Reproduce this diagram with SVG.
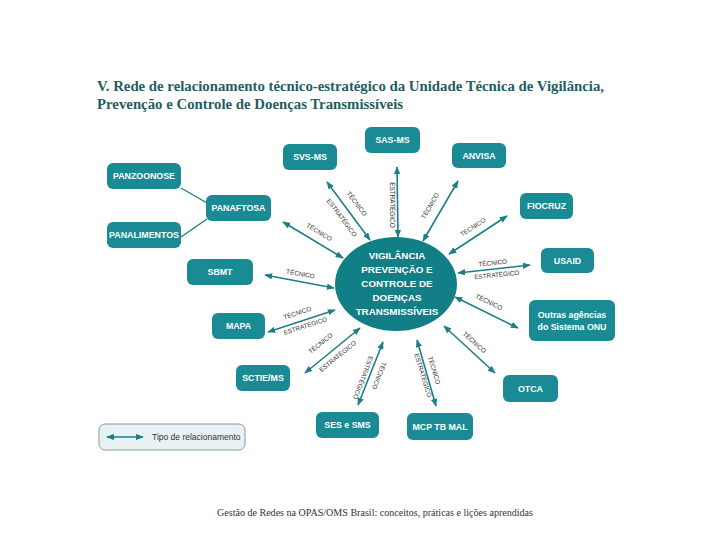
<svg xmlns="http://www.w3.org/2000/svg" width="720" height="540" viewBox="0 0 720 540">
<defs>
<marker id="ah" viewBox="0 0 10 8" refX="9" refY="4" markerUnits="userSpaceOnUse" markerWidth="8" markerHeight="6.4" orient="auto-start-reverse">
<path d="M0,0 L10,4 L0,8 z" fill="#1d7f86"/>
</marker>
</defs>
<style>
.node rect{fill:#1a8b94;}
.nt{font-family:"Liberation Sans","DejaVu Sans",sans-serif;font-weight:bold;font-size:8.8px;fill:#ffffff;text-anchor:middle;}
.ct{font-family:"Liberation Sans","DejaVu Sans",sans-serif;font-weight:bold;font-size:9.8px;fill:#ffffff;text-anchor:middle;}
.arr{stroke:#1d7f86;stroke-width:1.6;fill:none;marker-start:url(#ah);marker-end:url(#ah);}
.ln{stroke:#1d7f86;stroke-width:1.4;fill:none;}
.lb{font-family:"Liberation Sans","DejaVu Sans",sans-serif;font-size:6.4px;fill:#333333;text-anchor:middle;}
.title{font-family:"Liberation Serif","DejaVu Serif",serif;font-weight:bold;font-size:15px;fill:#1e5e5f;}
.foot{font-family:"Liberation Serif","DejaVu Serif",serif;font-size:9.5px;fill:#333333;}
</style>
<rect width="720" height="540" fill="#ffffff"/>
<text class="title" x="97" y="91" textLength="507" lengthAdjust="spacingAndGlyphs">V. Rede de relacionamento técnico-estratégico da Unidade Técnica de Vigilância,</text>
<text class="title" x="97" y="109" textLength="306" lengthAdjust="spacingAndGlyphs">Prevenção e Controle de Doenças Transmissíveis</text>

<g id="connectors">
<line class="ln" x1="181" y1="188" x2="207" y2="203"/>
<line class="ln" x1="181" y1="237" x2="207" y2="219"/>
<line class="arr" x1="327" y1="182" x2="370" y2="240"/>
<line class="arr" x1="283" y1="222" x2="343" y2="258"/>
<line class="arr" x1="397" y1="167" x2="398" y2="237"/>
<line class="arr" x1="458" y1="181" x2="423" y2="241"/>
<line class="arr" x1="507" y1="216" x2="449" y2="254"/>
<line class="arr" x1="530" y1="265" x2="458" y2="273"/>
<line class="arr" x1="455" y1="297" x2="518" y2="328"/>
<line class="arr" x1="444" y1="326" x2="495" y2="373"/>
<line class="arr" x1="417" y1="340" x2="436" y2="406"/>
<line class="arr" x1="383" y1="342" x2="358" y2="405"/>
<line class="arr" x1="360" y1="328" x2="305" y2="373"/>
<line class="arr" x1="335" y1="310" x2="268" y2="332"/>
<line class="arr" x1="265" y1="275" x2="334" y2="288"/>
<text class="lb" transform="translate(355,205) rotate(53)">TÉCNICO</text>
<text class="lb" transform="translate(340,219) rotate(53)">ESTRATÉGICO</text>
<text class="lb" transform="translate(318,234) rotate(31)">TÉCNICO</text>
<text class="lb" transform="translate(390,205) rotate(90)">ESTRATÉGICO</text>
<text class="lb" transform="translate(432,207) rotate(-60)">TÉCNICO</text>
<text class="lb" transform="translate(474,229) rotate(-33)">TÉCNICO</text>
<text class="lb" transform="translate(493,265) rotate(-6)">TÉCNICO</text>
<text class="lb" transform="translate(497,277) rotate(-6)">ESTRATÉGICO</text>
<text class="lb" transform="translate(488,304) rotate(26)">TÉCNICO</text>
<text class="lb" transform="translate(473,344) rotate(42)">TÉCNICO</text>
<text class="lb" transform="translate(432,371) rotate(73)">TÉCNICO</text>
<text class="lb" transform="translate(421,376) rotate(73)">ESTRATÉGICO</text>
<text class="lb" transform="translate(361,377) rotate(111)">ESTRATÉGICO</text>
<text class="lb" transform="translate(377,375) rotate(111)">TÉCNICO</text>
<text class="lb" transform="translate(322,345) rotate(-39)">TÉCNICO</text>
<text class="lb" transform="translate(339,358) rotate(-39)">ESTRATÉGICO</text>
<text class="lb" transform="translate(298,315) rotate(-18)">TÉCNICO</text>
<text class="lb" transform="translate(306,328) rotate(-18)">ESTRATÉGICO</text>
<text class="lb" transform="translate(300,276) rotate(10)">TÉCNICO</text>
</g>

<g id="center">
<ellipse cx="396" cy="284" rx="61" ry="47" fill="#127f86"/>
<text class="ct" x="397" y="259">VIGILÂNCIA</text>
<text class="ct" x="397" y="273">PREVENÇÃO E</text>
<text class="ct" x="397" y="287">CONTROLE DE</text>
<text class="ct" x="397" y="301">DOENÇAS</text>
<text class="ct" x="397" y="315">TRANSMISSÍVEIS</text>
</g>

<g id="sas-ms" class="node"><rect x="365" y="127" width="55" height="26" rx="6"/><text class="nt" x="392.5" y="143">SAS-MS</text></g>
<g id="anvisa" class="node"><rect x="452" y="143" width="54" height="25" rx="6"/><text class="nt" x="479" y="158.5">ANVISA</text></g>
<g id="fiocruz" class="node"><rect x="520" y="193" width="53" height="26" rx="6"/><text class="nt" x="546.5" y="209">FIOCRUZ</text></g>
<g id="usaid" class="node"><rect x="541" y="248" width="53" height="25" rx="6"/><text class="nt" x="567.5" y="263.5">USAID</text></g>
<g id="outras" class="node"><rect x="529" y="300" width="86" height="41" rx="6"/><text class="nt" x="572" y="318">Outras agências</text><text class="nt" x="572" y="330">do Sistema ONU</text></g>
<g id="otca" class="node"><rect x="503" y="375" width="55" height="27" rx="6"/><text class="nt" x="530.5" y="391.5">OTCA</text></g>
<g id="mcp" class="node"><rect x="407" y="413" width="66" height="27" rx="6"/><text class="nt" x="440" y="429.5">MCP TB MAL</text></g>
<g id="ses" class="node"><rect x="316" y="412" width="63" height="26" rx="6"/><text class="nt" x="347.5" y="428">SES e SMS</text></g>
<g id="sctie" class="node"><rect x="236" y="365" width="54" height="26" rx="6"/><text class="nt" x="263" y="381">SCTIE/MS</text></g>
<g id="mapa" class="node"><rect x="212" y="313" width="53" height="26" rx="6"/><text class="nt" x="238.5" y="329">MAPA</text></g>
<g id="sbmt" class="node"><rect x="187" y="259" width="66" height="26" rx="6"/><text class="nt" x="220" y="275">SBMT</text></g>
<g id="panaftosa" class="node"><rect x="206" y="195" width="65" height="26" rx="6"/><text class="nt" x="238.5" y="211">PANAFTOSA</text></g>
<g id="panzoonose" class="node"><rect x="107" y="163" width="74" height="26" rx="6"/><text class="nt" x="144" y="179">PANZOONOSE</text></g>
<g id="panalimentos" class="node"><rect x="107" y="222" width="74" height="26" rx="6"/><text class="nt" x="144" y="238" textLength="70" lengthAdjust="spacingAndGlyphs">PANALIMENTOS</text></g>
<g id="svs-ms" class="node"><rect x="283" y="144" width="54" height="26" rx="6"/><text class="nt" x="310" y="160">SVS-MS</text></g>

<g id="legend">
<rect x="99" y="424" width="146" height="26" rx="6" fill="#e8f1f3" stroke="#8a9a9e" stroke-width="1"/>
<line class="arr" x1="107" y1="437" x2="143" y2="437"/>
<text x="152" y="440" font-family="Liberation Sans, DejaVu Sans, sans-serif" font-size="8.5" fill="#333333">Tipo de relacionamento</text>
</g>

<text class="foot" x="217" y="516" textLength="316" lengthAdjust="spacingAndGlyphs">Gestão de Redes na OPAS/OMS Brasil: conceitos, práticas e lições aprendidas</text>
</svg>
